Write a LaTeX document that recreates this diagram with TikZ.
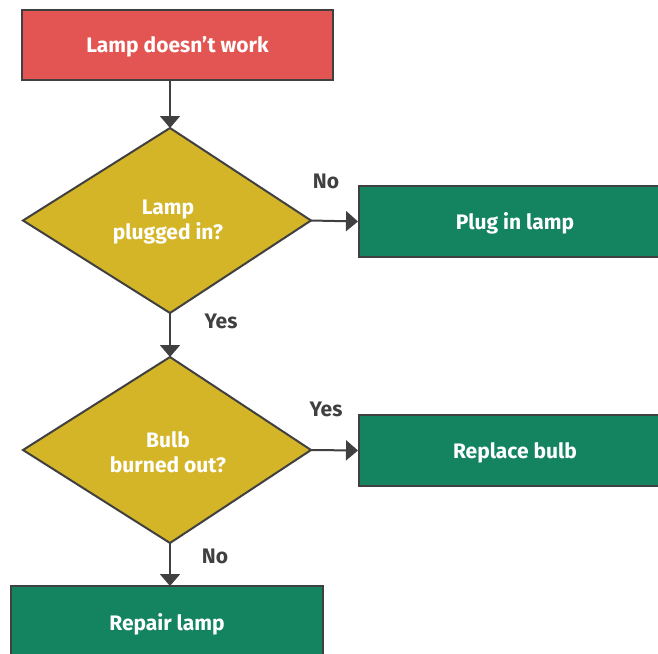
\documentclass[tikz,border=0pt]{standalone}
\usepackage{fontspec}
\setmainfont{Fira Sans}[BoldFont={Fira Sans Bold}]
\usetikzlibrary{arrows.meta}
\definecolor{cred}{HTML}{E35552}
\definecolor{cyel}{HTML}{D4B527}
\definecolor{cgrn}{HTML}{138360}
\definecolor{cdark}{HTML}{404040}
\begin{document}
\begin{tikzpicture}[x=1pt,y=-1pt,
  box/.style={draw=cdark,line width=2pt,inner sep=0pt},
  txt/.style={text=white,align=center,font=\fontsize{21}{25}\selectfont\bfseries,inner sep=0pt},
  dia/.style={draw=cdark,line width=2pt,fill=cyel,line join=miter},
  conn/.style={draw=cdark,line width=2pt,-{Triangle[length=12pt,width=20pt]}},
  lbl/.style={text=cdark,font=\fontsize{21}{25}\selectfont\bfseries,inner sep=0pt}]
\useasboundingbox (0,0) rectangle (658,653);
\clip (0,0) rectangle (658,653);
% start box
\node[box,fill=cred,minimum width=311pt,minimum height=70pt] (start) at (177.5,44.5) {};
\node[txt] (tstart) at (177.5,46.5) {Lamp doesn't work};
% decision 1
\coordinate (d1t) at (170,128);
\coordinate (d1l) at (23,220.5);
\coordinate (d1r) at (311,220.5);
\coordinate (d1b) at (170,313);
\draw[dia] (d1t) -- (d1r) -- (d1b) -- (d1l) -- cycle;
\node[txt] (d1) at (168,222.5) {Lamp\\plugged in?};
% decision 2
\coordinate (d2t) at (170,357);
\coordinate (d2l) at (23,450);
\coordinate (d2r) at (311,450);
\coordinate (d2b) at (170,543);
\draw[dia] (d2t) -- (d2r) -- (d2b) -- (d2l) -- cycle;
\node[txt] (d2) at (168,452) {Bulb\\burned out?};
% action boxes
\node[box,fill=cgrn,minimum width=340pt,minimum height=71pt] (plug) at (529,221.5) {};
\node[txt] (tplug) at (515,223.5) {Plug in lamp};
\node[box,fill=cgrn,minimum width=340pt,minimum height=71pt] (repl) at (529,450.5) {};
\node[txt] (trepl) at (515,452.5) {Replace bulb};
\node[box,fill=cgrn,minimum width=312pt,minimum height=90pt] (repair) at (167,631) {};
\node[txt] (trepair) at (167,624.5) {Repair lamp};
% connectors
\coordinate (s1) at (170,79.5);
\draw[conn] (s1) -- (d1t);
\draw[conn] (d1r) -- (plug.west);
\draw[conn] (d1b) -- (d2t);
\draw[conn] (d2r) -- (repl.west);
\coordinate (r1) at (170,586);
\draw[conn] (d2b) -- (r1);
% labels
\node[lbl] (l1) at (326,181) {No};
\node[lbl] (l2) at (221,321) {Yes};
\node[lbl] (l3) at (326,409) {Yes};
\node[lbl] (l4) at (215,556) {No};
\end{tikzpicture}
\end{document}
